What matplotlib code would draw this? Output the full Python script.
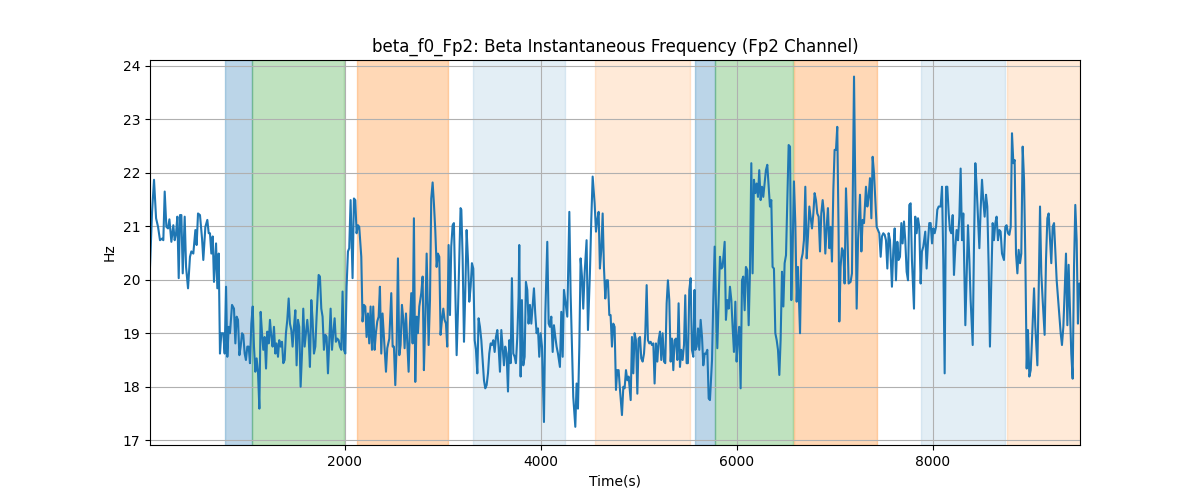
import numpy as np
import matplotlib
matplotlib.use("Agg")
import matplotlib.pyplot as plt

# time stamps
time = [13, 34, 54, 75, 95, 115, 136, 149, 163, 180, 197, 211, 231, 251, 265, 279, 292, 306, 319, 333,
        347, 367, 381, 401, 421, 435, 455, 476, 489, 503, 523, 544, 557, 578, 598, 612, 625, 639, 653, 666,
        687, 700, 714, 727, 741, 761, 775, 789, 802,
        816, 829, 850, 870, 884, 897, 911, 925, 938, 952, 965, 979, 992, 1006, 1020, 1033, 1047, 1061, 1074, 1088,
        1101, 1115, 1129, 1142, 1156, 1169, 1183, 1197, 1210, 1224, 1237, 1251, 1264, 1278, 1292, 1305, 1319, 1332,
        1346, 1360, 1373, 1387, 1400, 1414, 1428, 1441, 1455, 1468, 1482, 1496, 1509, 1523, 1536, 1550, 1564, 1577, 1591,
        1618, 1632, 1645, 1659, 1672, 1686, 1700, 1713, 1734, 1747, 1761, 1774, 1788, 1802, 1815, 1829, 1842, 1856,
        1870, 1883, 1897, 1910, 1924, 1938, 1951, 1965, 1978, 1992, 2006, 2019, 2033, 2046, 2060, 2080, 2094, 2108,
        2121, 2135, 2148, 2169, 2182, 2196, 2210, 2223, 2237, 2250, 2264, 2278, 2291, 2305, 2318, 2332, 2346, 2359,
        2373, 2386,
        2421, 2434, 2455, 2475, 2489, 2502, 2516, 2530, 2543, 2557, 2570, 2584, 2598, 2611, 2625, 2638, 2652, 2666,
        2679, 2693, 2706, 2720, 2734, 2747, 2761, 2781, 2795, 2808, 2822, 2836, 2856, 2870, 2883, 2897, 2910, 2924,
        2938, 2951, 2965, 2978, 2992, 3006, 3019, 3033, 3046, 3060, 3074, 3087, 3101, 3114, 3128, 3142, 3155, 3169, 3182,
        3190, 3203, 3217, 3230, 3244, 3258, 3271, 3285, 3298, 3312, 3326, 3339, 3353, 3366, 3380, 3394, 3407, 3421,
        3434, 3448, 3462, 3475, 3489, 3502, 3516, 3530, 3543, 3557, 3570, 3584, 3598, 3611, 3625, 3638, 3652, 3666,
        3679, 3693, 3706, 3720, 3734, 3747, 3761, 3774, 3781, 3795, 3808, 3822, 3836, 3849, 3863, 3876, 3890, 3904,
        3931, 3944, 3958, 3972, 3985,
        3999, 4013, 4033, 4047, 4067, 4081, 4094, 4108, 4122, 4135, 4149, 4162, 4176, 4196, 4210, 4224, 4237, 4258,
        4271, 4292, 4305, 4319, 4332, 4353, 4366, 4380, 4394, 4407, 4421, 4434, 4448, 4468, 4482, 4502, 4516, 4530,
        4550, 4564, 4577, 4591, 4604, 4618, 4632, 4645, 4659, 4672, 4686, 4700, 4713, 4727, 4740, 4754, 4768, 4781,
        4795, 4809, 4829, 4843, 4856, 4870, 4884, 4897, 4918, 4931, 4945, 4958, 4972, 4986, 4999, 5013, 5026, 5040,
        5054, 5067, 5081, 5094, 5108, 5122, 5135, 5149, 5162, 5176, 5190, 5203, 5217, 5230, 5244, 5258, 5271, 5285,
        5298, 5312, 5326, 5339, 5353, 5366, 5380, 5394, 5407, 5421, 5434, 5448, 5462, 5475, 5489, 5502, 5516, 5530,
        5543, 5557, 5570,
        5578, 5591, 5605, 5618, 5632, 5646, 5659, 5673, 5686, 5700, 5714, 5727, 5748, 5761, 5775, 5788, 5802, 5816,
        5829, 5843, 5856, 5877, 5890, 5904, 5918, 5931, 5945, 5958, 5972, 5986, 5999, 6013, 6026, 6040, 6054, 6067,
        6081, 6094, 6108, 6122, 6135, 6149, 6162, 6176, 6190, 6203, 6217, 6230, 6244, 6258, 6271, 6285, 6298, 6312,
        6326, 6339, 6353, 6366, 6380,
        6394, 6408, 6421, 6435, 6448, 6462, 6476, 6489, 6503, 6516, 6530, 6544, 6557, 6571, 6584, 6598, 6612, 6625,
        6646, 6659, 6673, 6686, 6700, 6714, 6727, 6741, 6754, 6768, 6782, 6795, 6809, 6822, 6836, 6850, 6863, 6877,
        6890, 6904, 6918, 6931, 6945, 6958, 6972, 6986, 6999, 7013, 7026, 7040, 7047, 7060, 7074, 7088, 7101, 7115,
        7128, 7142, 7162,
        7176, 7197, 7210, 7224, 7238, 7258, 7272, 7285, 7299, 7319, 7333, 7346, 7360, 7374, 7387, 7401, 7414, 7428,
        7442, 7455, 7469, 7482, 7496, 7510, 7523, 7537, 7550, 7564, 7584, 7598, 7612, 7625, 7639, 7652, 7666, 7680,
        7693, 7707, 7720, 7734, 7748, 7761, 7775, 7788, 7802, 7809, 7822, 7836, 7850, 7863, 7877, 7890, 7904, 7924,
        7938, 7952, 7965,
        7979, 7993, 8006, 8020, 8034, 8047, 8061, 8081, 8095, 8108, 8122, 8136, 8149, 8163, 8176, 8190, 8204, 8217,
        8231, 8244, 8258, 8272, 8285, 8299, 8312, 8333, 8346, 8360, 8374, 8387, 8408, 8421, 8435, 8448, 8462, 8476,
        8489, 8503, 8516, 8530, 8544, 8557, 8571, 8584, 8598, 8612, 8625, 8639, 8652, 8666, 8680, 8693, 8707, 8727,
        8741, 8754,
        8768, 8782, 8796, 8809, 8823, 8836, 8850, 8864, 8877, 8891, 8904, 8918, 8932, 8945, 8959, 8972, 8986, 9000,
        9013, 9034, 9047, 9068, 9081, 9095, 9108, 9122, 9142, 9156, 9170, 9183, 9197, 9210, 9224, 9238, 9251, 9265,
        9285, 9306, 9319, 9333, 9346, 9360, 9374, 9387, 9401, 9414, 9428, 9442, 9455, 9469, 9482, 9496, 9503]

# beta instantaneous frequency, Hz
freq = [20.24, 21.27, 21.87, 21.15, 20.99, 20.74, 20.77, 20.74, 21.65, 20.99, 20.96, 21.13, 20.71, 21.02, 20.74, 20.87, 21.18, 20.03, 21.21, 21.21,
        20.12, 21.18, 20.24, 19.84, 20.43, 20.53, 20.49, 20.93, 20.65, 21.24, 21.21, 20.77, 20.37, 20.99, 21.12, 20.87, 20.87, 20.49, 20.81, 19.96,
        20.68, 19.84, 20.49, 18.62, 19.00, 19.00, 18.62, 19.87, 18.56,
        19.12, 19.00, 19.53, 19.46, 18.81, 19.31, 19.25, 18.59, 18.75, 19.00, 18.97, 18.62, 18.50, 18.75, 18.75, 18.44, 19.18, 19.50, 18.75, 18.28,
        18.53, 18.28, 17.59, 19.40, 19.00, 18.69, 18.93, 18.34, 19.03, 18.81, 19.25, 18.93, 18.75, 19.12, 18.62, 18.81, 18.56, 18.87,
        18.75, 18.84, 18.44, 18.50, 19.00, 19.25, 19.65, 19.18, 19.06, 18.75, 19.12, 19.43, 18.40, 19.25, 19.12, 18.00, 18.62, 19.46, 18.75,
        19.25, 18.93, 18.37, 19.62, 19.25, 18.62, 18.75, 19.31, 20.09, 20.06, 19.46, 19.31, 18.69, 18.97, 18.93, 18.25, 18.81, 19.46,
        18.69, 19.00, 19.28, 18.84, 18.90, 18.87, 18.75, 18.69, 19.78, 18.69, 18.62, 19.87, 20.53, 20.59, 21.49, 20.03, 21.52, 21.49,
        20.87, 21.02, 20.99, 20.43, 19.22, 19.53, 19.50, 18.93, 19.37, 18.81, 19.50, 18.69, 19.50, 18.69, 19.00, 19.22, 19.31, 19.87,
        18.62, 19.37,
        18.28, 18.72, 18.90, 19.75, 18.75, 18.75, 18.03, 18.78, 20.40, 18.59, 18.78, 19.53, 19.25, 18.72, 19.37, 18.84, 18.28, 19.18,
        19.75, 18.81, 21.15, 18.09, 19.31, 19.00, 19.50, 19.75, 20.06, 18.31, 19.25, 20.49, 18.78, 19.62, 21.52, 21.82, 21.43, 20.93,
        20.24, 20.49, 20.43, 18.97, 19.25, 19.46, 19.25, 19.18, 18.75, 20.65, 19.34, 20.62, 21.02, 21.06, 19.87, 18.59, 19.37, 20.37, 21.34,
        21.31, 20.43, 18.84, 19.75, 20.93, 20.37, 19.59, 19.87, 20.31, 20.21, 18.87, 18.69, 18.25, 19.28, 19.12, 18.87, 18.50, 18.12,
        17.97, 18.03, 18.25, 18.62, 18.81, 18.78, 18.87, 18.65, 18.93, 19.06, 18.75, 18.28, 19.06, 18.75, 18.40, 18.75, 18.62, 17.91,
        18.87, 18.44, 20.03, 18.62, 18.56, 18.44, 18.93, 19.68, 20.65, 18.19, 19.62, 18.40, 18.56, 19.96, 19.81, 19.18, 19.53, 19.18,
        19.84, 19.37, 19.00, 19.09, 18.56,
        19.00, 18.75, 17.34, 19.37, 20.71, 19.18, 19.12, 19.31, 18.65, 19.15, 18.93, 18.75, 18.62, 18.37, 19.40, 18.56, 19.81, 19.50,
        19.31, 21.27, 19.75, 18.75, 17.81, 17.25, 18.06, 17.59, 18.75, 20.40, 20.06, 19.46, 20.12, 20.74, 19.06, 20.12, 21.12, 21.93,
        21.43, 20.90, 21.12, 21.27, 20.21, 20.56, 21.24, 20.24, 19.65, 19.99, 19.99, 19.34, 19.34, 18.75, 19.18, 19.12, 17.94, 18.31,
        18.31, 17.94, 17.47, 18.00, 17.97, 18.31, 18.12, 18.19, 17.75, 18.93, 18.25, 19.00, 18.87, 17.87, 18.90, 18.93, 18.53, 18.47,
        18.62, 19.00, 19.90, 18.87, 18.81, 18.84, 18.78, 18.81, 18.06, 18.81, 18.47, 18.87, 19.03, 18.50, 19.00, 18.47, 18.44, 19.56,
        19.99, 19.62, 18.47, 18.90, 18.31, 18.87, 18.90, 18.50, 19.56, 18.37, 18.69, 18.50, 18.78, 19.71, 18.44, 18.44, 19.81, 20.03,
        18.69, 18.56, 19.81,
        18.69, 18.75, 19.09, 18.69, 19.25, 18.93, 18.40, 18.62, 18.62, 18.69, 17.78, 17.75, 18.50, 19.62, 20.62, 19.56, 18.72, 19.65,
        20.43, 20.21, 20.24, 20.71, 19.25, 19.62, 19.46, 19.87, 19.62, 19.12, 18.65, 19.59, 18.47, 18.93, 19.12, 17.97, 19.99, 20.06,
        19.43, 20.24, 20.18, 19.15, 20.12, 22.18, 20.12, 21.87, 21.62, 21.80, 21.55, 22.05, 21.49, 21.74, 21.55, 21.80, 22.05, 22.15,
        21.74, 21.37, 21.49, 20.24, 20.21,
        19.00, 18.87, 18.69, 18.22, 18.87, 20.15, 19.50, 20.31, 20.46, 21.49, 22.52, 22.49, 19.62, 20.62, 21.84, 21.06, 19.59, 20.24,
        19.00, 20.37, 20.49, 20.74, 21.74, 20.40, 20.81, 21.37, 21.18, 20.96, 21.24, 21.62, 21.49, 21.24, 21.18, 20.53, 21.24, 21.49,
        21.24, 20.49, 20.99, 21.34, 20.59, 20.99, 20.34, 21.68, 22.43, 22.43, 22.86, 20.81, 19.22, 20.24, 20.59, 20.53, 19.93, 21.71,
        20.99, 19.93, 19.96,
        20.12, 23.80, 21.62, 19.46, 20.74, 21.59, 20.53, 21.12, 21.06, 21.74, 21.37, 21.55, 21.90, 21.15, 22.30, 21.99, 21.49, 20.99,
        20.93, 20.87, 20.43, 20.81, 20.87, 20.84, 20.74, 20.21, 20.87, 20.74, 19.87, 20.56, 20.96, 19.99, 20.71, 20.37, 20.43, 21.06,
        20.68, 21.09, 20.74, 20.15, 19.99, 21.40, 21.43, 20.37, 19.75, 19.46, 21.18, 20.87, 21.15, 20.99, 19.93, 20.53, 20.62, 20.90,
        20.21, 20.71, 21.06,
        21.06, 20.68, 20.96, 20.87, 20.99, 21.31, 21.37, 21.37, 21.74, 20.37, 18.25, 21.74, 21.74, 21.24, 20.93, 20.87, 21.21, 20.09,
        20.62, 20.93, 20.74, 21.18, 22.08, 20.74, 21.24, 19.15, 20.06, 21.02, 20.37, 19.62, 18.78, 20.62, 22.18, 21.74, 21.18, 20.59,
        21.31, 21.87, 21.49, 21.18, 21.59, 21.37, 20.24, 18.75, 19.99, 21.06, 20.74, 21.06, 21.18, 20.74, 20.93, 20.90, 20.49, 20.37,
        20.99, 21.02,
        20.87, 20.84, 20.99, 22.74, 22.18, 22.24, 20.49, 20.12, 20.56, 20.31, 20.49, 22.49, 21.87, 20.43, 18.34, 19.06, 18.19, 18.31,
        18.87, 19.84, 19.12, 18.40, 19.75, 21.37, 20.12, 19.62, 18.97, 20.37, 21.15, 21.24, 20.74, 20.31, 20.99, 21.06, 20.56, 19.99,
        19.50, 19.00, 18.78, 19.12, 19.75, 20.49, 19.15, 20.28, 19.43, 18.62, 18.15, 20.24, 21.40, 20.74, 19.18, 19.93, 19.93]

# shaded segments: start, end, colour, alpha
seg_start = [781, 1052, 2122, 3306, 4557, 5570, 5781, 6584, 7884, 8760]
seg_end = [1052, 1997, 3051, 4244, 5523, 5781, 6571, 7428, 8735, 9503]
seg_color = ['tab:blue', 'tab:green', 'tab:orange', 'tab:blue', 'tab:orange',
             'tab:blue', 'tab:green', 'tab:orange', 'tab:blue', 'tab:orange']
seg_alpha = [0.3, 0.3, 0.3, 0.12, 0.16, 0.3, 0.3, 0.3, 0.12, 0.16]

fig, ax = plt.subplots(figsize=(12, 5), dpi=100)

for s, e, c, a in zip(seg_start, seg_end, seg_color, seg_alpha):
    ax.axvspan(s, e, color=c, alpha=a)

ax.plot(time, freq, color='tab:blue', linewidth=1.5)

ax.set_xlim(time[0], time[-1])
ax.set_ylim(16.91, 24.11)
ax.grid(True)
ax.set_title("beta_f0_Fp2: Beta Instantaneous Frequency (Fp2 Channel)")
ax.set_xlabel("Time(s)")
ax.set_ylabel("Hz")

fig.savefig("out.png")
